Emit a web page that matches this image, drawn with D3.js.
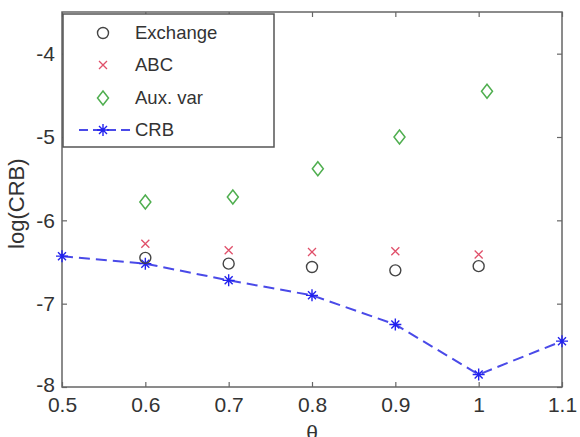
<!DOCTYPE html>
<html>
<head>
<meta charset="utf-8">
<script src="https://cdn.jsdelivr.net/npm/d3@7"></script>
<style>
  body { margin: 0; background: #fff; }
  text { font-family: "Liberation Sans", Arial, sans-serif; fill: #333; }
</style>
</head>
<body>
<div id="chart"></div>
<script>
(function () {

  // Datos
  const thetaTicks = [0.5, 0.6, 0.7, 0.8, 0.9, 1, 1.1]
  const yTicks = [-8, -7, -6, -5, -4]

  const exchangeTheta = [0.6, 0.7, 0.8, 0.9, 1.0]
  const exchangeVals = [-6.45, -6.52, -6.56, -6.60, -6.55]

  const abcTheta = [0.6, 0.7, 0.8, 0.9, 1.0]
  const abcVals = [-6.28, -6.36, -6.38, -6.37, -6.41]

  const auxTheta = [0.6, 0.705, 0.807, 0.905, 1.01]
  const auxVals = [-5.78, -5.72, -5.38, -5.0, -4.45]

  const crbTheta = [0.5, 0.6, 0.7, 0.8, 0.9, 1.0, 1.1]
  const crbVals = [-6.43, -6.52, -6.72, -6.90, -7.25, -7.85, -7.45]

  const width = 580, height = 437
  const margin = { top: 12, right: 18, bottom: 50, left: 62 }

  const svg = d3.select('#chart').append('svg')
    .attr('width', width)
    .attr('height', height)

  const x = d3.scaleLinear()
    .domain([0.5, 1.1])
    .range([margin.left, width - margin.right])

  const y = d3.scaleLinear()
    .domain([-8, -3.5])
    .range([height - margin.bottom, margin.top])

  const axisColor = '#666'
  const fontSize = 21

  // Caja de ejes
  svg.append('rect')
    .attr('x', x(0.5)).attr('y', y(-3.5))
    .attr('width', x(1.1) - x(0.5))
    .attr('height', y(-8) - y(-3.5))
    .attr('fill', 'none')
    .attr('stroke', axisColor)
    .attr('stroke-width', 1.5)

  // Ejes con ticks hacia adentro
  const xAxis = svg.append('g')
    .attr('transform', `translate(0,${y(-8)})`)
    .call(d3.axisBottom(x).tickValues(thetaTicks).tickFormat(d3.format('')).tickSizeInner(-5).tickSizeOuter(0).tickPadding(10))
  const yAxis = svg.append('g')
    .attr('transform', `translate(${x(0.5)},0)`)
    .call(d3.axisLeft(y).tickValues(yTicks).tickFormat(d => d).tickSizeInner(-5).tickSizeOuter(0).tickPadding(7))
  const xTop = svg.append('g')
    .attr('transform', `translate(0,${y(-3.5)})`)
    .call(d3.axisTop(x).tickValues(thetaTicks).tickFormat('').tickSizeInner(-5).tickSizeOuter(0))
  const yRight = svg.append('g')
    .attr('transform', `translate(${x(1.1)},0)`)
    .call(d3.axisRight(y).tickValues(yTicks).tickFormat('').tickSizeInner(-5).tickSizeOuter(0))

  ;[xAxis, yAxis, xTop, yRight].forEach(g => {
    g.select('.domain').remove()
    g.selectAll('line').attr('stroke', axisColor).attr('stroke-width', 1.2)
    g.selectAll('text')
      .attr('font-size', fontSize)
      .attr('font-family', '"Liberation Sans", Arial, sans-serif')
      .attr('fill', '#333')
  })
  xAxis.selectAll('text').attr('dy', '0.7em')
  // el -8 se sube un poco para no chocar con 0.5
  yAxis.selectAll('.tick').filter(d => d === -8).select('text').attr('dy', '0.2em')

  // Etiquetas de ejes
  svg.append('text')
    .attr('transform', `translate(24,${(y(-5.2) + y(-6.4)) / 2}) rotate(-90)`)
    .attr('text-anchor', 'middle')
    .attr('font-size', 22)
    .text('log(CRB)')

  svg.append('text')
    .attr('x', x(0.8))
    .attr('y', 440)
    .attr('text-anchor', 'middle')
    .attr('font-size', fontSize)
    .text('θ')

  // Simbolos
  const circle = (g, cx, cy) => g.append('circle')
    .attr('cx', cx).attr('cy', cy).attr('r', 5.5)
    .attr('fill', 'none').attr('stroke', '#444').attr('stroke-width', 1.4)

  const cross = (g, cx, cy) => g.append('path')
    .attr('d', `M${cx - 4},${cy - 4}L${cx + 4},${cy + 4}M${cx - 4},${cy + 4}L${cx + 4},${cy - 4}`)
    .attr('stroke', '#e0506a').attr('stroke-width', 1.3).attr('fill', 'none')

  const diamond = (g, cx, cy) => g.append('path')
    .attr('d', `M${cx},${cy - 7}L${cx + 5.5},${cy}L${cx},${cy + 7}L${cx - 5.5},${cy}Z`)
    .attr('stroke', '#4fae4f').attr('stroke-width', 1.5).attr('fill', 'none')

  const star = (g, cx, cy) => g.append('path')
    .attr('d', `M${cx - 6},${cy}L${cx + 6},${cy}M${cx},${cy - 6}L${cx},${cy + 6}M${cx - 4},${cy - 4}L${cx + 4},${cy + 4}M${cx - 4},${cy + 4}L${cx + 4},${cy - 4}`)
    .attr('stroke', '#2222ee').attr('stroke-width', 1.4).attr('fill', 'none')

  // Linea CRB
  const crbData = crbTheta.map((t, i) => ({ t, v: crbVals[i] }))
  svg.append('path')
    .datum(crbData)
    .attr('d', d3.line().x(d => x(d.t)).y(d => y(d.v)))
    .attr('fill', 'none')
    .attr('stroke', '#4a4ae8')
    .attr('stroke-width', 2)
    .attr('stroke-dasharray', '11,6')

  const marks = svg.append('g')
  crbData.forEach(d => star(marks, x(d.t), y(d.v)))
  exchangeTheta.forEach((t, i) => circle(marks, x(t), y(exchangeVals[i])))
  abcTheta.forEach((t, i) => cross(marks, x(t), y(abcVals[i])))
  auxTheta.forEach((t, i) => diamond(marks, x(t), y(auxVals[i])))

  // Leyenda
  const legend = svg.append('g')
  legend.append('rect')
    .attr('x', 63).attr('y', 14)
    .attr('width', 211).attr('height', 133)
    .attr('fill', '#fff')
    .attr('stroke', '#555')
    .attr('stroke-width', 1.5)

  const names = ['Exchange', 'ABC', 'Aux. var', 'CRB']
  const rowY = [33, 65, 98, 130]
  const markX = 103
  circle(legend, markX, rowY[0])
  cross(legend, markX, rowY[1])
  diamond(legend, markX, rowY[2])
  legend.append('line')
    .attr('x1', 79).attr('x2', 131)
    .attr('y1', rowY[3]).attr('y2', rowY[3])
    .attr('stroke', '#4a4ae8').attr('stroke-width', 2)
    .attr('stroke-dasharray', '9,5')
  star(legend, markX, rowY[3])

  names.forEach((n, i) => {
    legend.append('text')
      .attr('x', 135)
      .attr('y', rowY[i])
      .attr('dy', '0.35em')
      .attr('font-size', 18.5)
      .text(n)
  })

})()
</script>
</body>
</html>
